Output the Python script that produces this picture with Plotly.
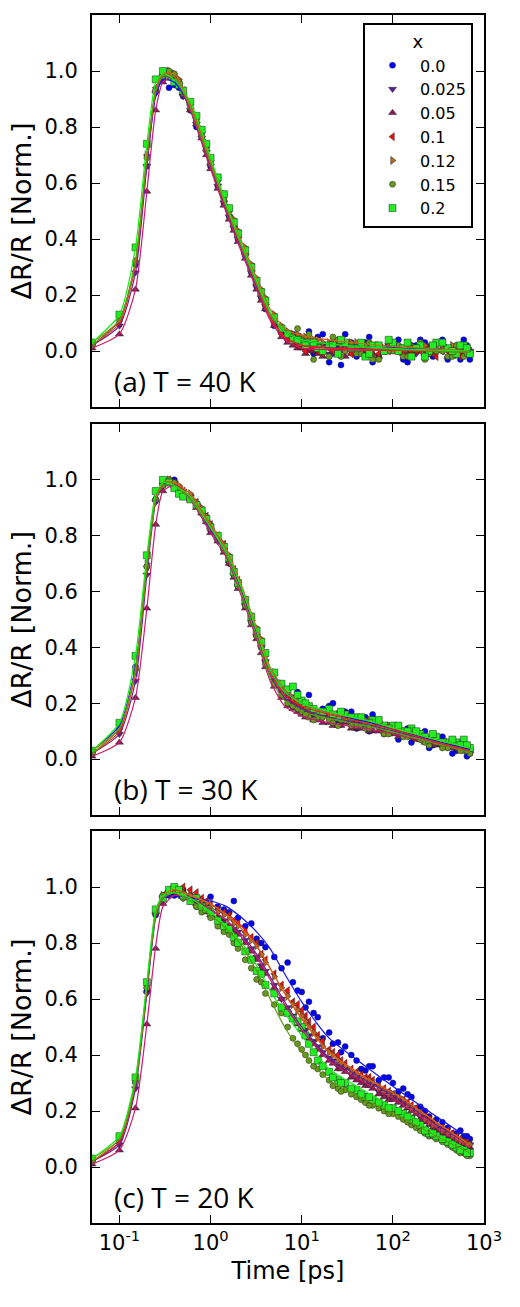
import math
import plotly.graph_objects as go

# ---------------- data ----------------
T = [0.05, 0.1, 0.15, 0.2, 0.25, 0.3, 0.35, 0.4, 0.45, 0.5,
     0.6, 0.7, 0.8, 0.9, 1.0, 1.2, 1.4, 1.6, 1.8, 2.0,
     2.4, 2.8, 3.2, 3.6, 4.0, 5.0, 6.0, 7.0, 8.0, 10,
     12, 15, 20, 25, 30, 40, 50, 60, 80, 100,
     130, 160, 200, 250, 300, 400, 500, 600, 700]
# extra late-time delays (second scan segment)
T2 = [9, 11, 13.5, 17, 22, 27, 35, 45, 55, 70,
      90, 115, 145, 180, 225, 275, 350, 450, 550, 650]
TF = [0.05, 0.1, 0.15, 0.2, 0.25, 0.3, 0.4, 0.6, 1.0, 1.5,
      2.2, 3.2, 4.5, 6.5, 10, 20, 50, 120, 300, 700]

X_LABELS = ['0.0', '0.025', '0.05', '0.1', '0.12', '0.15', '0.2']
PANEL_LABELS = ['(a) T = 40 K', '(b) T = 30 K', '(c) T = 20 K']

# panel (a) T = 40 K
A0 = [0.03, 0.12, 0.31, 0.66, 0.93, 0.97, 0.94, 0.95, 0.94, 0.91,
      0.86, 0.80, 0.79, 0.73, 0.66, 0.59, 0.53, 0.48, 0.44, 0.40,
      0.34, 0.28, 0.23, 0.19, 0.15, 0.09, 0.07, 0.04, 0.06, 0.04,
      0.07, 0.05, -0.04, 0.02, 0.06, -0.02, 0.03, -0.04, 0.01, 0.03,
      -0.03, 0.02, 0.04, -0.01, 0.03, -0.03, 0.02, 0.04, -0.03]
A1 = [0.02, 0.09, 0.28, 0.66, 0.92, 0.98, 0.99, 0.97, 0.95, 0.91,
      0.86, 0.81, 0.76, 0.71, 0.66, 0.59, 0.53, 0.48, 0.44, 0.40,
      0.34, 0.28, 0.23, 0.19, 0.16, 0.10, 0.06, 0.04, 0.03, 0.02,
      0.01, 0.02, -0.01, 0.01, 0.00, 0.02, -0.01, 0.01, 0.00, 0.02,
      0.00, -0.01, 0.01, 0.02, 0.00, 0.01, -0.01, 0.01, 0.00]
A2 = [0.01, 0.06, 0.22, 0.57, 0.86, 0.96, 1.00, 0.98, 0.95, 0.92,
      0.86, 0.81, 0.76, 0.70, 0.65, 0.58, 0.52, 0.47, 0.43, 0.39,
      0.33, 0.27, 0.22, 0.18, 0.15, 0.09, 0.05, 0.03, 0.02, 0.01,
      0.00, -0.01, 0.01, 0.00, -0.02, 0.01, 0.00, -0.01, 0.00, 0.01,
      -0.01, 0.00, 0.01, -0.01, 0.00, -0.02, 0.00, -0.01, 0.00]
A3 = [0.02, 0.10, 0.31, 0.70, 0.94, 0.99, 0.99, 0.98, 0.96, 0.93,
      0.88, 0.82, 0.77, 0.72, 0.67, 0.61, 0.55, 0.50, 0.45, 0.41,
      0.35, 0.29, 0.24, 0.20, 0.16, 0.10, 0.06, 0.04, 0.03, 0.02,
      0.01, 0.00, 0.01, -0.01, 0.01, 0.00, 0.02, -0.01, 0.00, 0.01,
      -0.01, 0.00, 0.00, 0.01, -0.02, 0.00, 0.01, -0.01, 0.00]
A4 = [0.03, 0.11, 0.32, 0.70, 0.93, 0.99, 1.00, 0.99, 0.97, 0.93,
      0.88, 0.83, 0.78, 0.73, 0.68, 0.62, 0.56, 0.51, 0.47, 0.43,
      0.37, 0.31, 0.26, 0.22, 0.19, 0.13, 0.09, 0.07, 0.06, 0.05,
      0.04, 0.04, 0.03, 0.03, 0.02, 0.03, 0.02, 0.02, 0.01, 0.02,
      0.01, 0.02, 0.01, 0.00, 0.01, 0.01, 0.00, 0.01, 0.00]
A5 = [0.02, 0.11, 0.32, 0.69, 0.93, 0.98, 1.00, 0.99, 0.96, 0.92,
      0.87, 0.82, 0.77, 0.72, 0.67, 0.61, 0.54, 0.50, 0.45, 0.41,
      0.35, 0.29, 0.24, 0.20, 0.17, 0.11, 0.08, 0.06, 0.05, 0.04,
      0.06, 0.02, -0.02, 0.04, 0.00, -0.01, 0.02, -0.03, 0.01, 0.00,
      -0.02, 0.01, 0.03, -0.01, 0.00, -0.02, 0.02, -0.02, -0.01]
A6 = [0.03, 0.13, 0.37, 0.74, 0.97, 1.00, 0.98, 0.96, 0.95, 0.93,
      0.89, 0.84, 0.79, 0.74, 0.69, 0.62, 0.56, 0.51, 0.46, 0.42,
      0.36, 0.30, 0.25, 0.21, 0.18, 0.12, 0.08, 0.06, 0.04, 0.03,
      0.03, 0.01, 0.02, -0.01, 0.03, 0.01, -0.02, 0.02, 0.00, 0.03,
      0.01, -0.02, 0.02, 0.00, 0.03, 0.01, -0.01, 0.02, -0.01]
A0x = [0.05, 0.03, -0.01, 0.06, 0.01, -0.05, 0.03, 0.00, 0.05, -0.02, 0.01, 0.04, -0.04, 0.02, 0.03, -0.02, 0.04, 0.01, -0.03, 0.02]
A1x = [0.02, 0.01, 0.00, 0.02, -0.01, 0.01, 0.00, 0.01, -0.01, 0.01, 0.02, 0.00, 0.01, -0.01, 0.00, 0.02, 0.00, -0.01, 0.01, 0.00]
A2x = [0.01, -0.01, 0.00, -0.02, 0.01, 0.00, -0.01, 0.01, 0.00, -0.02, 0.00, 0.01, -0.01, 0.00, -0.01, 0.00, 0.01, -0.02, 0.00, -0.01]
A3x = [0.02, 0.00, 0.01, -0.01, 0.00, 0.02, -0.01, 0.00, 0.01, -0.01, 0.00, 0.01, -0.02, 0.00, 0.01, -0.01, 0.00, 0.01, -0.02, 0.00]
A4x = [0.06, 0.05, 0.04, 0.03, 0.04, 0.02, 0.03, 0.02, 0.01, 0.02, 0.03, 0.01, 0.02, 0.01, 0.02, 0.00, 0.01, 0.02, 0.00, 0.01]
A5x = [0.08, 0.03, -0.03, 0.01, 0.05, -0.02, 0.02, -0.01, 0.03, -0.03, 0.00, 0.02, -0.02, 0.01, -0.03, 0.02, 0.00, -0.02, 0.01, -0.01]
A6x = [0.04, 0.02, 0.03, 0.00, 0.02, 0.04, 0.01, 0.03, -0.01, 0.02, 0.04, 0.00, 0.03, 0.01, -0.02, 0.02, 0.03, 0.00, 0.02, 0.01]

FA0 = [0.02, 0.11, 0.31, 0.67, 0.91, 0.97, 0.96, 0.87, 0.67, 0.51, 0.37, 0.24, 0.13, 0.07, 0.04, 0.025, 0.015, 0.01, 0.005, 0.0]
FA1 = [0.02, 0.09, 0.28, 0.66, 0.92, 0.98, 0.97, 0.86, 0.66, 0.50, 0.36, 0.23, 0.12, 0.05, 0.02, 0.012, 0.008, 0.004, 0.002, 0.0]
FA2 = [0.01, 0.06, 0.22, 0.57, 0.86, 0.96, 0.98, 0.86, 0.65, 0.49, 0.35, 0.22, 0.11, 0.04, 0.01, 0.005, 0.003, 0.002, 0.0, -0.005]
FA3 = [0.02, 0.10, 0.31, 0.69, 0.93, 0.99, 0.98, 0.88, 0.67, 0.51, 0.37, 0.24, 0.12, 0.05, 0.02, 0.01, 0.005, 0.002, 0.0, -0.005]
FA4 = [0.03, 0.11, 0.32, 0.70, 0.93, 0.99, 0.99, 0.88, 0.68, 0.52, 0.39, 0.26, 0.15, 0.08, 0.055, 0.04, 0.025, 0.015, 0.008, 0.0]
FA5 = [0.02, 0.11, 0.32, 0.69, 0.93, 0.98, 0.98, 0.87, 0.67, 0.51, 0.37, 0.24, 0.13, 0.07, 0.04, 0.025, 0.012, 0.005, 0.0, -0.005]
FA6 = [0.03, 0.13, 0.37, 0.74, 0.96, 0.99, 0.97, 0.89, 0.69, 0.52, 0.38, 0.25, 0.14, 0.07, 0.04, 0.025, 0.015, 0.008, 0.003, 0.0]

# panel (b) T = 30 K
B0 = [0.03, 0.12, 0.33, 0.69, 0.93, 0.98, 0.99, 1.00, 0.96, 0.95,
      0.93, 0.91, 0.89, 0.85, 0.82, 0.79, 0.75, 0.71, 0.66, 0.62,
      0.55, 0.49, 0.44, 0.40, 0.35, 0.28, 0.26, 0.23, 0.22, 0.20,
      0.23, 0.16, 0.19, 0.13, 0.17, 0.11, 0.15, 0.16, 0.09, 0.12,
      0.10, 0.06, 0.09, 0.04, 0.08, 0.06, 0.03, 0.05, 0.02]
B1 = [0.02, 0.09, 0.28, 0.66, 0.92, 0.98, 1.00, 0.99, 0.97, 0.96,
      0.94, 0.91, 0.88, 0.85, 0.82, 0.78, 0.75, 0.70, 0.66, 0.62,
      0.55, 0.49, 0.44, 0.40, 0.35, 0.28, 0.24, 0.21, 0.20, 0.18,
      0.16, 0.16, 0.15, 0.14, 0.14, 0.13, 0.12, 0.12, 0.10, 0.10,
      0.09, 0.08, 0.07, 0.07, 0.06, 0.05, 0.04, 0.04, 0.03]
B2 = [0.01, 0.06, 0.22, 0.54, 0.84, 0.96, 0.99, 0.98, 0.97, 0.95,
      0.93, 0.90, 0.88, 0.85, 0.81, 0.78, 0.74, 0.70, 0.65, 0.61,
      0.54, 0.48, 0.43, 0.38, 0.33, 0.26, 0.22, 0.19, 0.18, 0.16,
      0.15, 0.14, 0.13, 0.12, 0.13, 0.11, 0.12, 0.10, 0.10, 0.09,
      0.08, 0.08, 0.07, 0.06, 0.05, 0.05, 0.04, 0.03, 0.03]
B3 = [0.02, 0.10, 0.31, 0.69, 0.93, 0.99, 1.00, 0.99, 0.97, 0.96,
      0.94, 0.92, 0.89, 0.87, 0.84, 0.80, 0.77, 0.72, 0.68, 0.64,
      0.57, 0.51, 0.46, 0.42, 0.37, 0.30, 0.25, 0.23, 0.21, 0.19,
      0.17, 0.16, 0.16, 0.15, 0.14, 0.14, 0.13, 0.12, 0.11, 0.10,
      0.09, 0.08, 0.08, 0.07, 0.06, 0.05, 0.04, 0.04, 0.03]
B4 = [0.03, 0.11, 0.32, 0.70, 0.93, 0.99, 1.00, 0.99, 0.98, 0.96,
      0.95, 0.92, 0.90, 0.87, 0.84, 0.80, 0.77, 0.73, 0.68, 0.64,
      0.57, 0.51, 0.47, 0.43, 0.38, 0.31, 0.27, 0.24, 0.22, 0.20,
      0.18, 0.17, 0.16, 0.16, 0.15, 0.14, 0.14, 0.13, 0.12, 0.11,
      0.10, 0.09, 0.08, 0.07, 0.07, 0.06, 0.05, 0.04, 0.04]
B5 = [0.02, 0.11, 0.32, 0.69, 0.93, 0.98, 1.00, 0.99, 0.97, 0.95,
      0.93, 0.91, 0.88, 0.86, 0.83, 0.79, 0.75, 0.71, 0.66, 0.62,
      0.55, 0.49, 0.44, 0.40, 0.34, 0.27, 0.23, 0.20, 0.19, 0.17,
      0.15, 0.15, 0.14, 0.12, 0.14, 0.12, 0.11, 0.12, 0.09, 0.10,
      0.08, 0.09, 0.07, 0.05, 0.06, 0.04, 0.05, 0.03, 0.02]
B6 = [0.03, 0.13, 0.37, 0.73, 0.96, 1.00, 0.99, 0.97, 0.95, 0.94,
      0.93, 0.91, 0.89, 0.86, 0.83, 0.80, 0.76, 0.72, 0.67, 0.63,
      0.57, 0.51, 0.46, 0.42, 0.38, 0.31, 0.27, 0.25, 0.26, 0.21,
      0.19, 0.17, 0.18, 0.15, 0.16, 0.15, 0.13, 0.14, 0.12, 0.12,
      0.10, 0.11, 0.09, 0.07, 0.08, 0.06, 0.06, 0.07, 0.04]
B0x = [0.24, 0.20, 0.15, 0.18, 0.20, 0.13, 0.17, 0.15, 0.10, 0.14, 0.12, 0.07, 0.11, 0.08, 0.10, 0.05, 0.08, 0.02, 0.06, 0.01]
B1x = [0.19, 0.17, 0.16, 0.15, 0.15, 0.14, 0.13, 0.13, 0.12, 0.11, 0.10, 0.09, 0.09, 0.08, 0.07, 0.06, 0.05, 0.05, 0.04, 0.03]
B2x = [0.17, 0.15, 0.14, 0.13, 0.12, 0.12, 0.11, 0.11, 0.10, 0.10, 0.09, 0.08, 0.08, 0.07, 0.06, 0.05, 0.05, 0.04, 0.03, 0.03]
B3x = [0.20, 0.18, 0.17, 0.16, 0.15, 0.15, 0.14, 0.13, 0.13, 0.12, 0.11, 0.10, 0.09, 0.08, 0.07, 0.07, 0.06, 0.05, 0.04, 0.03]
B4x = [0.21, 0.19, 0.18, 0.17, 0.16, 0.16, 0.15, 0.14, 0.14, 0.13, 0.12, 0.10, 0.10, 0.09, 0.08, 0.07, 0.06, 0.05, 0.05, 0.04]
B5x = [0.18, 0.16, 0.14, 0.15, 0.13, 0.14, 0.12, 0.12, 0.11, 0.12, 0.09, 0.10, 0.08, 0.08, 0.06, 0.07, 0.04, 0.05, 0.03, 0.03]
B6x = [0.23, 0.20, 0.18, 0.17, 0.16, 0.17, 0.15, 0.15, 0.13, 0.14, 0.11, 0.12, 0.10, 0.10, 0.08, 0.09, 0.06, 0.07, 0.05, 0.05]

FB0 = [0.03, 0.12, 0.33, 0.69, 0.93, 0.98, 0.98, 0.94, 0.83, 0.74, 0.60, 0.45, 0.32, 0.24, 0.20, 0.165, 0.135, 0.10, 0.065, 0.035]
FB1 = [0.02, 0.09, 0.28, 0.66, 0.92, 0.98, 0.98, 0.94, 0.82, 0.73, 0.59, 0.44, 0.30, 0.22, 0.18, 0.15, 0.125, 0.095, 0.06, 0.03]
FB2 = [0.01, 0.06, 0.22, 0.54, 0.84, 0.96, 0.98, 0.93, 0.81, 0.72, 0.58, 0.43, 0.28, 0.19, 0.155, 0.13, 0.11, 0.085, 0.055, 0.025]
FB3 = [0.02, 0.10, 0.31, 0.69, 0.93, 0.99, 0.99, 0.94, 0.84, 0.75, 0.61, 0.46, 0.31, 0.23, 0.19, 0.16, 0.13, 0.10, 0.06, 0.03]
FB4 = [0.03, 0.11, 0.32, 0.70, 0.93, 0.99, 0.99, 0.95, 0.84, 0.75, 0.62, 0.47, 0.33, 0.25, 0.20, 0.165, 0.14, 0.105, 0.07, 0.04]
FB5 = [0.02, 0.11, 0.32, 0.69, 0.93, 0.98, 0.98, 0.93, 0.83, 0.73, 0.59, 0.44, 0.29, 0.21, 0.17, 0.145, 0.12, 0.09, 0.055, 0.025]
FB6 = [0.03, 0.13, 0.37, 0.73, 0.95, 0.99, 0.98, 0.94, 0.83, 0.74, 0.61, 0.46, 0.32, 0.24, 0.20, 0.17, 0.14, 0.105, 0.07, 0.04]

# panel (c) T = 20 K
C0 = [0.03, 0.10, 0.31, 0.63, 0.90, 0.96, 0.97, 0.97, 0.99, 0.99,
      0.97, 0.93, 0.95, 0.94, 0.965, 0.93, 0.92, 0.91, 0.95, 0.89,
      0.86, 0.87, 0.815, 0.80, 0.785, 0.75, 0.71, 0.73, 0.66, 0.625,
      0.59, 0.535, 0.48, 0.445, 0.43, 0.38, 0.345, 0.36, 0.32, 0.30,
      0.28, 0.25, 0.215, 0.18, 0.17, 0.14, 0.12, 0.11, 0.10]
C1 = [0.02, 0.08, 0.28, 0.62, 0.90, 0.96, 0.98, 0.98, 0.97, 0.96,
      0.95, 0.94, 0.92, 0.92, 0.90, 0.89, 0.88, 0.86, 0.85, 0.84,
      0.81, 0.78, 0.75, 0.72, 0.70, 0.65, 0.60, 0.57, 0.54, 0.50,
      0.47, 0.43, 0.39, 0.36, 0.35, 0.32, 0.30, 0.29, 0.26, 0.25,
      0.23, 0.21, 0.18, 0.16, 0.14, 0.12, 0.10, 0.09, 0.08]
C2 = [0.01, 0.06, 0.21, 0.51, 0.78, 0.94, 0.97, 0.98, 0.98, 0.97,
      0.96, 0.94, 0.93, 0.91, 0.90, 0.89, 0.87, 0.86, 0.84, 0.83,
      0.80, 0.77, 0.74, 0.71, 0.69, 0.64, 0.60, 0.56, 0.53, 0.49,
      0.46, 0.42, 0.38, 0.35, 0.34, 0.31, 0.29, 0.28, 0.25, 0.24,
      0.22, 0.20, 0.17, 0.15, 0.13, 0.11, 0.09, 0.08, 0.07]
C3 = [0.02, 0.09, 0.30, 0.64, 0.91, 0.97, 0.99, 0.99, 0.98, 1.00,
      0.99, 0.98, 0.96, 0.95, 0.94, 0.92, 0.91, 0.90, 0.88, 0.87,
      0.84, 0.82, 0.80, 0.76, 0.74, 0.69, 0.65, 0.63, 0.59, 0.56,
      0.52, 0.47, 0.42, 0.40, 0.37, 0.34, 0.32, 0.31, 0.28, 0.26,
      0.24, 0.22, 0.19, 0.17, 0.15, 0.13, 0.11, 0.09, 0.08]
C4 = [0.03, 0.10, 0.31, 0.65, 0.91, 0.97, 0.98, 0.99, 0.98, 0.98,
      0.97, 0.96, 0.95, 0.94, 0.93, 0.91, 0.90, 0.89, 0.87, 0.86,
      0.83, 0.81, 0.79, 0.76, 0.73, 0.68, 0.64, 0.61, 0.58, 0.54,
      0.50, 0.46, 0.41, 0.38, 0.36, 0.33, 0.31, 0.30, 0.27, 0.26,
      0.24, 0.21, 0.19, 0.16, 0.15, 0.12, 0.10, 0.09, 0.08]
C5 = [0.02, 0.10, 0.30, 0.64, 0.91, 0.97, 0.99, 1.00, 0.98, 0.96,
      0.95, 0.93, 0.91, 0.92, 0.89, 0.86, 0.84, 0.83, 0.80, 0.78,
      0.74, 0.71, 0.67, 0.66, 0.62, 0.58, 0.55, 0.50, 0.46, 0.42,
      0.38, 0.35, 0.31, 0.28, 0.275, 0.25, 0.23, 0.22, 0.20, 0.19,
      0.17, 0.15, 0.13, 0.11, 0.10, 0.08, 0.06, 0.05, 0.04]
C6 = [0.03, 0.11, 0.32, 0.66, 0.92, 0.96, 0.99, 1.00, 0.99, 0.97,
      0.95, 0.96, 0.93, 0.92, 0.91, 0.88, 0.86, 0.85, 0.82, 0.80,
      0.77, 0.74, 0.70, 0.69, 0.65, 0.62, 0.57, 0.55, 0.53, 0.50,
      0.44, 0.38, 0.34, 0.31, 0.30, 0.275, 0.25, 0.24, 0.22, 0.21,
      0.19, 0.17, 0.15, 0.12, 0.11, 0.09, 0.07, 0.06, 0.05]
C0x = [0.63, 0.57, 0.55, 0.46, 0.44, 0.41, 0.40, 0.35, 0.36, 0.31, 0.32, 0.27, 0.26, 0.21, 0.20, 0.16, 0.16, 0.12, 0.13, 0.11]
C1x = [0.52, 0.49, 0.45, 0.41, 0.38, 0.36, 0.33, 0.31, 0.30, 0.27, 0.25, 0.24, 0.22, 0.20, 0.17, 0.15, 0.13, 0.11, 0.09, 0.08]
C2x = [0.51, 0.47, 0.44, 0.40, 0.37, 0.35, 0.32, 0.30, 0.29, 0.26, 0.24, 0.23, 0.21, 0.19, 0.16, 0.14, 0.12, 0.10, 0.08, 0.07]
C3x = [0.58, 0.54, 0.50, 0.45, 0.41, 0.38, 0.35, 0.33, 0.32, 0.29, 0.27, 0.25, 0.23, 0.21, 0.18, 0.16, 0.14, 0.12, 0.10, 0.09]
C4x = [0.56, 0.52, 0.48, 0.43, 0.40, 0.37, 0.34, 0.32, 0.31, 0.28, 0.26, 0.25, 0.22, 0.20, 0.17, 0.15, 0.13, 0.11, 0.09, 0.08]
C5x = [0.44, 0.40, 0.36, 0.33, 0.29, 0.27, 0.26, 0.24, 0.22, 0.21, 0.19, 0.18, 0.16, 0.14, 0.12, 0.11, 0.09, 0.07, 0.05, 0.04]
C6x = [0.52, 0.47, 0.41, 0.36, 0.32, 0.30, 0.28, 0.26, 0.25, 0.23, 0.21, 0.20, 0.18, 0.16, 0.13, 0.12, 0.10, 0.08, 0.06, 0.05]

FC0 = [0.02, 0.09, 0.30, 0.63, 0.90, 0.96, 0.97, 0.96, 0.95, 0.93, 0.89, 0.84, 0.78, 0.69, 0.59, 0.46, 0.36, 0.27, 0.18, 0.10]
FC1 = [0.02, 0.08, 0.28, 0.62, 0.89, 0.96, 0.98, 0.96, 0.92, 0.88, 0.83, 0.76, 0.68, 0.59, 0.50, 0.39, 0.31, 0.24, 0.15, 0.08]
FC2 = [0.01, 0.06, 0.21, 0.51, 0.79, 0.93, 0.97, 0.96, 0.92, 0.88, 0.82, 0.75, 0.67, 0.58, 0.49, 0.38, 0.30, 0.23, 0.14, 0.07]
FC3 = [0.02, 0.09, 0.30, 0.64, 0.91, 0.97, 0.99, 0.97, 0.94, 0.90, 0.86, 0.79, 0.71, 0.62, 0.53, 0.41, 0.32, 0.25, 0.16, 0.08]
FC4 = [0.03, 0.10, 0.31, 0.65, 0.91, 0.97, 0.99, 0.97, 0.94, 0.90, 0.85, 0.79, 0.71, 0.62, 0.53, 0.41, 0.32, 0.25, 0.16, 0.08]
FC5 = [0.02, 0.10, 0.30, 0.64, 0.90, 0.96, 0.98, 0.95, 0.90, 0.85, 0.79, 0.70, 0.60, 0.50, 0.41, 0.31, 0.24, 0.18, 0.11, 0.05]
FC6 = [0.03, 0.11, 0.32, 0.66, 0.92, 0.97, 0.98, 0.96, 0.91, 0.86, 0.80, 0.72, 0.63, 0.55, 0.47, 0.35, 0.27, 0.20, 0.12, 0.06]

PANELS = [
    ([A0, A1, A2, A3, A4, A5, A6], [A0x, A1x, A2x, A3x, A4x, A5x, A6x],
     [FA0, FA1, FA2, FA3, FA4, FA5, FA6]),
    ([B0, B1, B2, B3, B4, B5, B6], [B0x, B1x, B2x, B3x, B4x, B5x, B6x],
     [FB0, FB1, FB2, FB3, FB4, FB5, FB6]),
    ([C0, C1, C2, C3, C4, C5, C6], [C0x, C1x, C2x, C3x, C4x, C5x, C6x],
     [FC0, FC1, FC2, FC3, FC4, FC5, FC6]),
]

# ---------------- style ----------------
MARKER_COLORS = ['#0000ff', '#58208e', '#8c1a55', '#ee1111', '#b8661e', '#689a1e', '#22ee22']
LINE_COLORS = ['#1414ff', '#6a22a0', '#cc1a70', '#ff1a1a', '#cc6a1a', '#5f9a10', '#11ee11']
SYMBOLS = ['circle', 'triangle-down', 'triangle-up', 'triangle-left',
           'triangle-right', 'circle', 'square']
SIZES = [6, 7, 7, 7, 7, 6, 7]
FONT = 'DejaVu Sans'

fig = go.Figure()
axis_ids = [('x', 'y'), ('x2', 'y2'), ('x3', 'y3')]

for p, (series, extra, fits) in enumerate(PANELS):
    xa, ya = axis_ids[p]
    for i, ys in enumerate(series):
        fig.add_trace(go.Scatter(
            x=T + T2, y=ys + extra[i], mode='markers', xaxis=xa, yaxis=ya,
            name=X_LABELS[i], legendgroup=X_LABELS[i], showlegend=(p == 0),
            marker=dict(symbol=SYMBOLS[i], size=SIZES[i], color=MARKER_COLORS[i],
                        line=dict(color='#222222', width=0.5))))
    for i, fy in enumerate(fits):
        fig.add_trace(go.Scatter(
            x=TF, y=fy, mode='lines', xaxis=xa, yaxis=ya, showlegend=False,
            line=dict(color=LINE_COLORS[i], width=1.2, shape='spline', smoothing=0.6),
            hoverinfo='skip'))

H = 1208.0
domains = [[(1223 - 407) / H, 1.0], [(1223 - 815) / H, (1223 - 424) / H], [0.0, 392 / H]]

xtickvals = [0.1, 1, 10, 100, 1000]
xticktext = ['10<sup>-1</sup>', '10<sup>0</sup>', '10<sup>1</sup>', '10<sup>2</sup>', '10<sup>3</sup>']
ytickvals = [0.0, 0.2, 0.4, 0.6, 0.8, 1.0]
yticktext = ['0.0', '0.2', '0.4', '0.6', '0.8', '1.0']

layout = dict(
    width=520, height=1307, autosize=False,
    margin=dict(l=92, r=36, t=15, b=84),
    paper_bgcolor='white', plot_bgcolor='white',
    font=dict(family=FONT, size=21, color='black'),
    showlegend=True,
    legend=dict(
        x=0.972, y=0.9934, xanchor='right', yanchor='top',
        bgcolor='white', bordercolor='black', borderwidth=2,
        font=dict(family=FONT, size=16, color='black'),
        title=dict(text='x', side='top center', font=dict(family=FONT, size=18)),
        itemwidth=45, tracegroupgap=0,
    ),
)

for p in range(3):
    xs = 'xaxis' if p == 0 else f'xaxis{p + 1}'
    ys = 'yaxis' if p == 0 else f'yaxis{p + 1}'
    layout[xs] = dict(
        type='log', range=[math.log10(0.05), 3], domain=[0, 1],
        anchor=axis_ids[p][1],
        showline=True, linecolor='black', linewidth=2, mirror='allticks',
        ticks='inside', ticklen=8, tickwidth=1, tickcolor='black',
        tickvals=xtickvals, ticktext=xticktext,
        showticklabels=(p == 2), showgrid=False, zeroline=False,
        tickfont=dict(family=FONT, size=21),
    )
    if p == 2:
        layout[xs]['title'] = dict(text='Time [ps]', font=dict(family=FONT, size=24), standoff=8)
    layout[ys] = dict(
        range=[-0.2, 1.2], domain=domains[p], anchor=axis_ids[p][0],
        showline=True, linecolor='black', linewidth=2, mirror='allticks',
        ticks='inside', ticklen=8, tickwidth=1, tickcolor='black',
        tickvals=ytickvals, ticktext=yticktext, ticklabelstandoff=8,
        showgrid=False, zeroline=False,
        tickfont=dict(family=FONT, size=21),
        title=dict(text='ΔR/R [Norm.]', font=dict(family=FONT, size=27), standoff=5),
    )

fig.update_layout(**layout)

annotations = []
for p in range(3):
    annotations.append(dict(
        text=PANEL_LABELS[p], xref=f'{axis_ids[p][0]} domain', yref=f'{axis_ids[p][1]} domain',
        x=0.05, y=0.066, xanchor='left', yanchor='middle', showarrow=False,
        font=dict(family='Open Sans', size=28, color='black')))
fig.update_layout(annotations=annotations)

fig.write_html('out.html')
